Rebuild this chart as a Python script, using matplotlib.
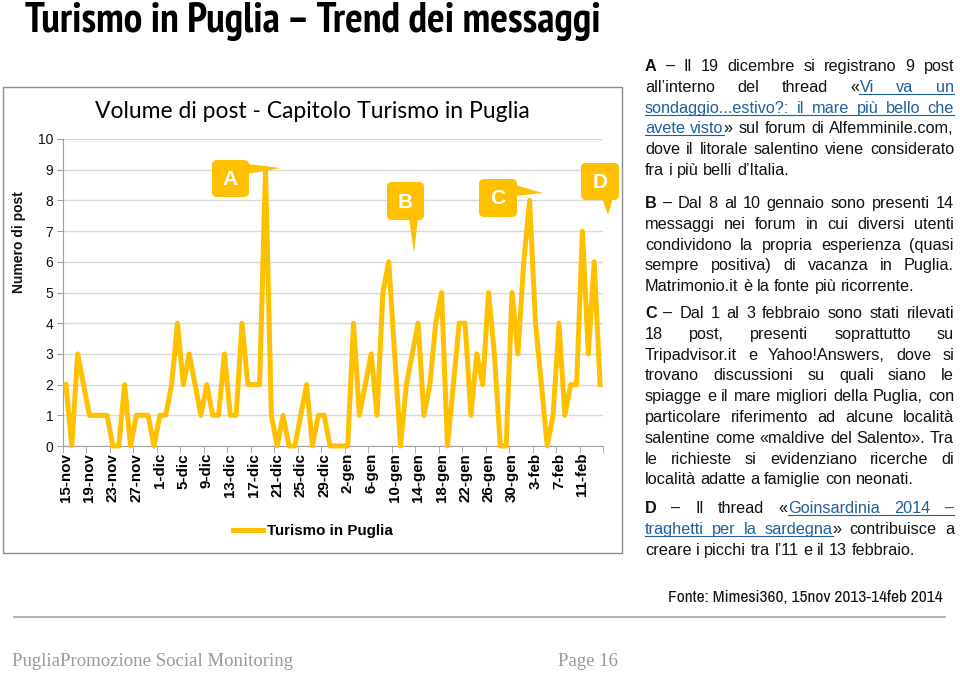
import os
import numpy as np
import matplotlib
matplotlib.use('Agg')
import matplotlib.pyplot as plt
from matplotlib import font_manager
from matplotlib.font_manager import FontProperties
from matplotlib.transforms import Affine2D
from matplotlib.patches import FancyBboxPatch, Polygon, Rectangle
from matplotlib.lines import Line2D

W, H = 960, 675

# daily post counts, 15 nov 2013 -> 14 feb 2014
posts = [2, 0, 3, 2, 1, 1, 1, 1, 0, 0, 2, 0, 1, 1, 1, 0,
         1, 1, 2, 4, 2, 3, 2, 1, 2, 1, 1, 3, 1, 1, 4, 2,
         2, 2, 9, 1, 0, 1, 0, 0, 1, 2, 0, 1, 1, 0, 0, 0,
         0, 4, 1, 2, 3, 1, 5, 6, 3, 0, 2, 3, 4, 1, 2, 4,
         5, 0, 2, 4, 4, 1, 3, 2, 5, 3, 0, 0, 5, 3, 6, 8,
         4, 2, 0, 1, 4, 1, 2, 2, 7, 3, 6, 2]
tick_labels = ['15-nov', '19-nov', '23-nov', '27-nov', '1-dic', '5-dic', '9-dic',
               '13-dic', '17-dic', '21-dic', '25-dic', '29-dic', '2-gen', '6-gen',
               '10-gen', '14-gen', '18-gen', '22-gen', '26-gen', '30-gen', '3-feb',
               '7-feb', '11-feb']
series_name = 'Turismo in Puglia'
y_ticks = list(range(0, 11))

# side notes ([..] = link, *..* = bold)
note_a = ["*A* – Il 19 dicembre si registrano 9 post",
          "all’interno del thread «[Vi va un]",
          "[sondaggio...estivo?: il mare più bello che]",
          "[avete visto]» sul forum di Alfemminile.com,",
          "dove il litorale salentino viene considerato",
          "fra i più belli d’Italia."]
note_b = ["*B* – Dal 8 al 10 gennaio sono presenti 14",
          "messaggi  nei forum in cui diversi utenti",
          "condividono la propria esperienza (quasi",
          "sempre positiva) di vacanza in Puglia.",
          "Matrimonio.it è la fonte più ricorrente."]
note_c = ["*C* – Dal 1 al 3 febbraio sono stati rilevati",
          "18 post, presenti soprattutto su",
          "Tripadvisor.it e Yahoo!Answers, dove si",
          "trovano discussioni su quali siano le",
          "spiagge e il mare migliori della Puglia, con",
          "particolare riferimento ad alcune località",
          "salentine come «maldive del Salento». Tra",
          "le richieste si evidenziano ricerche di",
          "località adatte a famiglie con neonati."]
note_d = ["*D* – Il thread «[Goinsardinia 2014 –]",
          "[traghetti per la sardegna]» contribuisce a",
          "creare i picchi tra l’11 e il 13 febbraio."]

SANS = 'Liberation Sans'
SERIF = 'Liberation Serif'
names = {f.name for f in font_manager.fontManager.ttflist}
CAL = 'Lato' if 'Lato' in names else 'DejaVu Sans'


def narrow_font(bold):
    # look for a narrow / condensed face on disk, else plain Liberation Sans
    files = sorted(f.fname for f in font_manager.fontManager.ttflist)
    for key in ('LiberationSansNarrow', 'Narrow', 'Condensed'):
        for fn in files:
            base = os.path.basename(fn)
            if key not in base or 'Italic' in base or 'Oblique' in base:
                continue
            if ('Bold' in base) == bold:
                return FontProperties(fname=fn)
    return FontProperties(family=SANS, weight='bold' if bold else 'normal')


GOLD = '#FFC000'
LINK = '#1F5F9E'
INK = '#111111'

fig = plt.figure(figsize=(W / 100, H / 100), dpi=100)
px = Affine2D().scale(1 / W, -1 / H).translate(0, 1) + fig.transFigure
rend = fig.canvas.get_renderer()


def fit(t, width, cap=None):
    w = t.get_window_extent(rend).width
    size = t.get_fontsize() * width / w
    if cap:
        size = min(size, cap)
    t.set_fontsize(size)


# titles
t = fig.text(25, 32, 'Turismo in Puglia – Trend dei messaggi', transform=px,
             fontproperties=narrow_font(True), ha='left', va='baseline')
t.set_fontsize(26)
fit(t, 602, cap=30)
fig.patches.append(Rectangle((3, 87), 619, 466, transform=px, fill=False,
                             ec='#8C8C8C', lw=1, zorder=0))
t = fig.text(312, 112, 'Volume di post - Capitolo Turismo in Puglia', transform=px,
             family=CAL, fontsize=15, ha='center', va='center')
fit(t, 435)

# chart
ax = fig.add_axes([63 / W, 1 - 446 / H, 540 / W, 307 / H])
xs = np.arange(len(posts))
ax.plot(xs, posts, color=GOLD, lw=3.6, solid_joinstyle='round',
        clip_on=False, label=series_name, zorder=3)
ax.set_xlim(-0.5, len(posts) - 0.5)
ax.set_ylim(0, 10)
ax.set_yticks(y_ticks)
ax.grid(axis='y', color='#D9D9D9', lw=1)
ax.set_axisbelow(True)
ax.tick_params(axis='y', length=4, color='#A0A0A0', labelsize=10, labelcolor=INK, pad=3)
ax.set_xticks(xs[::4])
ax.set_xticklabels(tick_labels, rotation=90, fontsize=10.9, fontweight='bold')
ax.set_xticks(np.arange(-0.5, len(posts), 4), minor=True)
ax.tick_params(axis='x', which='major', length=0, pad=5)
ax.tick_params(axis='x', which='minor', length=5, color='#A0A0A0')
for lab in ax.get_xticklabels() + ax.get_yticklabels():
    lab.set_family(SANS)
for s in ['top', 'right']:
    ax.spines[s].set_visible(False)
for s in ['left', 'bottom']:
    ax.spines[s].set_color('#A0A0A0')
fig.text(19, 242, 'Numero di post', transform=px, rotation=90, family=SANS,
         weight='bold', fontsize=10, ha='center', va='center', color=INK)
ax.legend(loc='center', bbox_to_anchor=(313 / W, 1 - 531 / H), bbox_transform=fig.transFigure,
          frameon=False, handlelength=2.0, handletextpad=0.25,
          prop={'family': SANS, 'weight': 'bold', 'size': 10.9})


# callouts
def callout(letter, box, tip):
    x0, y0, x1, y1 = box
    fig.patches.append(FancyBboxPatch((x0, y0), x1 - x0, y1 - y0, transform=px,
                                      boxstyle='round,pad=0,rounding_size=5',
                                      fc=GOLD, ec='none', zorder=5))
    fig.patches.append(Polygon(tip, closed=True, transform=px, fc=GOLD, ec='none', zorder=5))
    fig.text((x0 + x1) / 2, (y0 + y1) / 2 + 1, letter, transform=px, color='white',
             family=SANS, weight='bold', fontsize=15, ha='center', va='center', zorder=6)


callout('A', (212, 160, 249, 197), [(247, 164), (247, 174), (281, 168)])
callout('B', (387, 182, 424, 220), [(409, 218), (418, 218), (414, 253)])
callout('C', (479, 179, 517, 217), [(515, 185), (515, 196), (543, 193)])
callout('D', (581, 163, 619, 200), [(602, 198), (613, 198), (608, 215)])

# justified side text
FS = 11.7
SP = FS * 100 / 72 * 0.278


def parse(line):
    words, cur, buf, style = [], [], '', 'n'
    for ch in line + ' ':
        if ch in '[]* ':
            if buf:
                cur.append((buf, style))
                buf = ''
            if ch == '[':
                style = 'l'
            elif ch == ']':
                style = 'n'
            elif ch == '*':
                style = 'n' if style == 'b' else 'b'
            elif cur:
                words.append(cur)
                cur = []
        else:
            buf += ch
    return words


def paragraph(lines, y0, x0=645, x1=954, lh=20.8):
    for i, line in enumerate(lines):
        words = parse(line)
        yb = y0 + i * lh + 5
        arts, widths = [], []
        for w in words:
            segs = []
            for txt, st in w:
                tt = fig.text(0, 0, txt, transform=px, fontsize=FS, family=SANS,
                              weight='bold' if st == 'b' else 'normal',
                              color=LINK if st == 'l' else INK, va='baseline', ha='left')
                segs.append((tt, tt.get_window_extent(rend).width, st))
            arts.append(segs)
            widths.append(sum(s[1] for s in segs))
        if i == len(lines) - 1 or len(words) < 2:
            gap = SP
        else:
            gap = (x1 - x0 - sum(widths)) / (len(words) - 1)
        x = x0
        flat = []
        for segs in arts:
            for tt, wd, st in segs:
                tt.set_position((x, yb))
                flat.append((x, x + wd, st))
                x += wd
            x += gap
        run = None
        for a, b, st in flat + [(0, 0, 'n')]:
            if st == 'l':
                run = [a, b] if run is None else [run[0], b]
            elif run is not None:
                fig.add_artist(Line2D(run, [yb + 2, yb + 2], transform=px, color=LINK, lw=0.8))
                run = None


paragraph(note_a, 66)
paragraph(note_b, 203)
paragraph(note_c, 313)
paragraph(note_d, 508)

# footer
t = fig.text(943, 597, 'Fonte: Mimesi360, 15nov 2013-14feb 2014', transform=px,
             fontproperties=narrow_font(False), ha='right', va='center', color=INK)
t.set_fontsize(11)
fit(t, 273)
fig.add_artist(Line2D([14, 945], [617, 617], transform=px, color='#A6A6A6', lw=1.2))
fig.text(12, 661, 'PugliaPromozione Social Monitoring', transform=px, family=SERIF,
         fontsize=13.5, ha='left', va='center', color='#999999')
fig.text(558, 661, 'Page 16', transform=px, family=SERIF,
         fontsize=13.5, ha='left', va='center', color='#999999')

fig.savefig('out.png', dpi=100)
